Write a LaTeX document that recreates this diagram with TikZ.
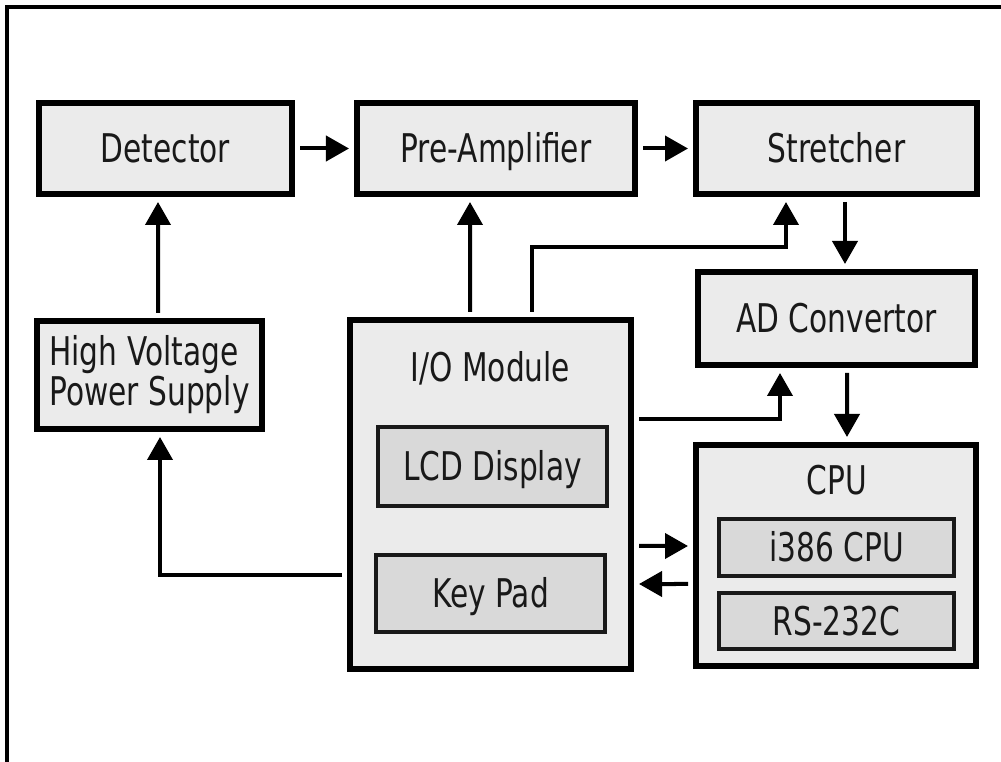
\documentclass[tikz,border=0pt]{standalone}
\usepackage{xcolor}
\usepackage{fontspec}
\setmainfont{DejaVu Sans}[FakeStretch=0.75]
\usetikzlibrary{positioning, arrows.meta, calc}

\begin{document}
\begin{tikzpicture}[
    x=0.2mm, y=-0.2mm,
    font=\fontsize{22.5}{20}\selectfont,
    % ---- outer block ----
    block/.style={
        rectangle,
        draw=black,
        fill=black!8,
        line width=1.2mm,
        text=black!90,
        align=center,
        inner sep=0pt
    },
    % ---- inner part of a block ----
    part/.style={
        rectangle,
        draw=black!90,
        fill=black!15,
        line width=0.9mm,
        text=black!90,
        inner sep=0pt,
        oneline
    },
    % ---- one line of text, capitals centred ----
    oneline/.style={text height=16.4pt, text depth=0pt},
    % ---- block title ----
    title/.style={text=black!90, inner sep=0pt, oneline},
    % ---- connectors ----
    conn/.style={
        line width=0.8mm,
        -{Triangle[length=4.6mm, width=5mm]},
        shorten <=1mm,
        shorten >=1mm
    }
]
\useasboundingbox (0,0) rectangle (1001,762);

% ---- frame ----
\draw[line width=0.7mm] (7,762) -- (7,7) -- (1001,7);

% ---------- ROW 1: detector chain ----------
\node[block, oneline, minimum width=50.6mm, minimum height=18.2mm] (Det) at (165.5,148.5) {Detector};
\node[block, oneline, minimum width=55.6mm, minimum height=18.2mm] (PreAmp) at (496,148.5) {Pre-Amplifier};
\node[block, oneline, minimum width=56.2mm, minimum height=18.2mm] (Str) at (836.5,148.5) {Stretcher};

% ---------- ROW 2 ----------
\node[block, oneline, minimum width=55.4mm, minimum height=18.6mm] (ADC) at (836.5,318.5) {AD Convertor};
\node[block, align=left, minimum width=45mm, minimum height=21.6mm] (HVPS) at (149.5,375) {High Voltage\\Power Supply};

% ---------- I/O module ----------
\node[block, minimum width=56.2mm, minimum height=69.8mm] (IO) at (490.5,494.5) {};
\node[title] (IOt) at (490.5,367) {I/O Module};
\node[part, minimum width=45.8mm, minimum height=15.8mm] (LCD) at (492.5,466.5) {LCD Display};
\node[part, minimum width=45.8mm, minimum height=15.4mm] (Key) at (490.5,593.5) {Key Pad};

% ---------- CPU ----------
\node[block, minimum width=56mm, minimum height=44.2mm] (CPU) at (836,555.5) {};
\node[title] (CPUt) at (837,480) {CPU};
\node[part, minimum width=47mm, minimum height=11.4mm] (I386) at (836.5,547.5) {i386 CPU};
\node[part, minimum width=47mm, minimum height=11.2mm] (RS) at (836.5,621) {RS-232C};

% ============================================================
%  CONNECTORS
% ============================================================

% detector -- pre-amplifier -- stretcher
\draw[conn] (Det.east) -- (PreAmp.west);
\draw[conn] (PreAmp.east) -- (Str.west);

% high voltage -- detector
\draw[conn] ([xshift=1.7mm]HVPS.north) -- ([xshift=-1.5mm]Det.south);

% I/O -- pre-amplifier
\draw[conn] ([xshift=-4.1mm]IO.north) -- ([xshift=-5.2mm]PreAmp.south);

% I/O -- stretcher
\draw[conn] ([xshift=8.3mm]IO.north) -- ++(0,-70) -| ([xshift=-10.1mm]Str.south);

% stretcher -- AD -- CPU
\draw[conn] ([xshift=1.7mm]Str.south) -- ([xshift=1.7mm]ADC.north);
\draw[conn] ([xshift=2.1mm]ADC.south) -- ([xshift=2.2mm]CPU.north);

% I/O -- AD
\draw[conn] ([yshift=15.1mm]IO.east) -| ([xshift=-11.3mm]ADC.south);

% I/O -- CPU
\draw[conn] ([yshift=-10.3mm]IO.east) -- ([yshift=1.9mm]CPU.west);
\draw[conn] ([yshift=-5.7mm]CPU.west) -- ([yshift=-17.9mm]IO.east);

% I/O -- high voltage
\draw[conn] ([yshift=-16.1mm]IO.west) -| ([xshift=2.1mm]HVPS.south);

\end{tikzpicture}
\end{document}
